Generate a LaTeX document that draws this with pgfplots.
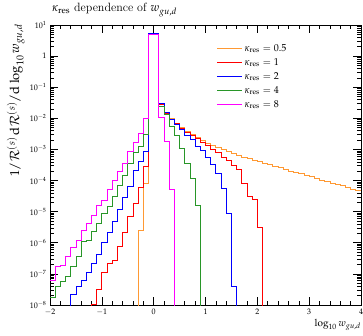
\documentclass[border=0pt]{standalone}
\usepackage{mathpazo}
\usepackage{pgfplots}
\pgfplotsset{compat=1.18}
\definecolor{korange}{RGB}{255,153,51}
\definecolor{kred}{RGB}{255,0,0}
\definecolor{kblue}{RGB}{0,0,255}
\definecolor{kgreen}{RGB}{40,150,40}
\definecolor{kmagenta}{RGB}{255,0,255}

\begin{document}
\begin{tikzpicture}
\begin{axis}[
  name=ax,
  scale only axis, width=311pt, height=280pt,
  xmin=-2, xmax=4, ymin=1e-8, ymax=10,
  ymode=log,
  clip=true,
  xtick={-2,-1,0,1,2,3,4},
  minor x tick num=4,
  ytick={1e-8,1e-7,1e-6,1e-5,1e-4,1e-3,1e-2,1e-1,1,10},
  yticklabels={$10^{-8}$,$10^{-7}$,$10^{-6}$,$10^{-5}$,$10^{-4}$,$10^{-3}$,$10^{-2}$,$10^{-1}$,$1$,$10^{1}$},
  minor ytick={2e-8,3e-8,4e-8,5e-8,6e-8,7e-8,8e-8,9e-8,
               2e-7,3e-7,4e-7,5e-7,6e-7,7e-7,8e-7,9e-7,
               2e-6,3e-6,4e-6,5e-6,6e-6,7e-6,8e-6,9e-6,
               2e-5,3e-5,4e-5,5e-5,6e-5,7e-5,8e-5,9e-5,
               2e-4,3e-4,4e-4,5e-4,6e-4,7e-4,8e-4,9e-4,
               2e-3,3e-3,4e-3,5e-3,6e-3,7e-3,8e-3,9e-3,
               2e-2,3e-2,4e-2,5e-2,6e-2,7e-2,8e-2,9e-2,
               0.2,0.3,0.4,0.5,0.6,0.7,0.8,0.9,
               2,3,4,5,6,7,8,9},
  tick align=inside, xtick pos=both, ytick pos=both,
  major tick length=8pt, minor tick length=4pt,
  every tick/.style={black, line width=0.6pt},
  axis line style={line width=0.6pt},
  tick label style={font=\footnotesize},
  title={$\kappa_{\mathrm{res}}$ dependence of $w_{gu,d}$},
  title style={at={(axis description cs:0,1)}, anchor=south west, inner sep=2pt, yshift=0pt,
               font=\fontsize{12}{14}\selectfont},
  xlabel={$\log_{10} w_{gu,d}$},
  xlabel style={at={(axis description cs:1,0)}, anchor=north east, inner sep=0pt, yshift=-14pt},
  ylabel={$1/\mathcal{R}^{(s)}\,\mathrm{d}\mathcal{R}^{(s)}/\mathrm{d}\log_{10} w_{gu,d}$},
  ylabel style={at={(axis description cs:-0.07,1.015)}, anchor=south east,
                font=\fontsize{13}{15}\selectfont},
  legend style={draw=none, fill=none, at={(axis description cs:0.525,0.945)}, anchor=north west,
                row sep=1.5pt, font=\normalsize},
  legend cell align=left,
  legend image code/.code={\draw[#1, line width=1.2pt] (0pt,0pt) -- (25pt,0pt);},
  every axis plot/.append style={const plot, line width=0.8pt, mark=none},
]
\coordinate (bl) at (rel axis cs:0,0);
\coordinate (tr) at (rel axis cs:1,1);

% kappa_res = 0.5
\addplot[korange] coordinates {
(-0.4,1e-12) (-0.3,2.57e-6) (-0.2,8.13e-5) (-0.1,5.15) (0.0,5.15)
(0.1,2.82e-2) (0.2,1.51e-2) (0.3,1.0e-2) (0.4,7.08e-3) (0.5,5.01e-3)
(0.6,3.80e-3) (0.7,3.02e-3) (0.8,2.40e-3) (0.9,1.91e-3) (1.0,1.58e-3)
(1.1,1.35e-3) (1.2,1.15e-3) (1.3,1.0e-3) (1.4,8.71e-4) (1.5,7.59e-4)
(1.6,6.61e-4) (1.7,5.75e-4) (1.8,5.13e-4) (1.9,4.57e-4) (2.0,4.07e-4)
(2.1,3.63e-4) (2.2,3.24e-4) (2.3,2.88e-4) (2.4,2.57e-4) (2.5,2.29e-4)
(2.6,2.04e-4) (2.7,1.86e-4) (2.8,1.66e-4) (2.9,1.48e-4) (3.0,1.32e-4)
(3.1,1.17e-4) (3.2,1.05e-4) (3.3,9.33e-5) (3.4,8.32e-5) (3.5,7.59e-5)
(3.6,6.76e-5) (3.7,6.03e-5) (3.8,5.37e-5) (3.9,4.79e-5) (4.0,4.79e-5)
};
\addlegendentry{$\kappa_{\mathrm{res}} = 0.5$}

% kappa_res = 1
\addplot[kred] coordinates {
(-1.3,1e-12) (-1.2,1.07e-8) (-1.1,3.16e-8) (-1.0,1.10e-7) (-0.9,2.19e-7)
(-0.8,2.75e-7) (-0.7,7.59e-7) (-0.6,2.14e-6) (-0.5,6.92e-6) (-0.4,1.86e-5)
(-0.3,6.03e-5) (-0.2,2.82e-4) (-0.1,5.15) (0.0,5.15)
(0.1,2.82e-2) (0.2,1.45e-2) (0.3,9.33e-3) (0.4,6.76e-3) (0.5,4.79e-3)
(0.6,3.55e-3) (0.7,2.82e-3) (0.8,2.19e-3) (0.9,1.70e-3) (1.0,1.32e-3)
(1.1,1.0e-3) (1.2,7.94e-4) (1.3,5.62e-4) (1.4,4.47e-4) (1.5,3.02e-4)
(1.6,2.24e-4) (1.7,8.13e-5) (1.8,3.16e-5) (1.9,2.51e-5) (2.0,3.24e-6)
(2.1,1e-12)
};
\addlegendentry{$\kappa_{\mathrm{res}} = 1$}

% kappa_res = 2
\addplot[kblue] coordinates {
(-1.7,1e-12) (-1.6,2.19e-8) (-1.5,3.89e-8) (-1.4,6.31e-8) (-1.3,1.10e-7)
(-1.2,2.19e-7) (-1.1,4.27e-7) (-1.0,1.0e-6) (-0.9,2.09e-6) (-0.8,5.01e-6)
(-0.7,1.20e-5) (-0.6,2.82e-5) (-0.5,6.46e-5) (-0.4,2.09e-4) (-0.3,4.07e-4)
(-0.2,8.51e-4) (-0.1,5.2) (0.0,5.2)
(0.1,3.02e-2) (0.2,1.51e-2) (0.3,8.91e-3) (0.4,6.61e-3) (0.5,4.47e-3)
(0.6,2.88e-3) (0.7,2.09e-3) (0.8,1.29e-3) (0.9,9.55e-4) (1.0,5.62e-4)
(1.1,3.39e-4) (1.2,1.70e-4) (1.3,5.62e-5) (1.4,8.91e-6) (1.5,3.89e-8)
(1.6,1e-12)
};
\addlegendentry{$\kappa_{\mathrm{res}} = 2$}

% kappa_res = 4
\addplot[kgreen] coordinates {
(-2.0,1.82e-8) (-1.9,3.89e-8) (-1.8,5.62e-8) (-1.7,8.51e-8) (-1.6,1.70e-7)
(-1.5,3.55e-7) (-1.4,1.12e-6) (-1.3,1.17e-6) (-1.2,2.24e-6) (-1.1,4.17e-6)
(-1.0,8.51e-6) (-0.9,1.51e-5) (-0.8,3.16e-5) (-0.7,7.24e-5) (-0.6,1.51e-4)
(-0.5,3.55e-4) (-0.4,7.94e-4) (-0.3,1.26e-3) (-0.2,3.02e-3) (-0.1,5.13) (0.0,5.13)
(0.1,2.51e-2) (0.2,1.29e-2) (0.3,5.62e-3) (0.4,2.88e-3) (0.5,1.07e-3)
(0.6,3.55e-4) (0.7,1.17e-4) (0.8,1.62e-5) (0.9,1e-12)
};
\addlegendentry{$\kappa_{\mathrm{res}} = 4$}

% kappa_res = 8
\addplot[kmagenta] coordinates {
(-2.0,6.31e-8) (-1.9,1.70e-7) (-1.8,1.86e-7) (-1.7,3.55e-7) (-1.6,7.08e-7)
(-1.5,1.23e-6) (-1.4,2.45e-6) (-1.3,4.17e-6) (-1.2,7.76e-6) (-1.1,1.55e-5)
(-1.0,2.34e-5) (-0.9,5.25e-5) (-0.8,1.05e-4) (-0.7,1.91e-4) (-0.6,3.55e-4)
(-0.5,8.51e-4) (-0.4,1.66e-3) (-0.3,3.31e-3) (-0.2,1.0e-2) (-0.1,5.13) (0.0,5.13)
(0.1,1.07e-2) (0.2,1.78e-3) (0.3,5.25e-5) (0.4,1e-12)
};
\addlegendentry{$\kappa_{\mathrm{res}} = 8$}
\end{axis}
\pgfresetboundingbox
\path[use as bounding box] ([xshift=-50pt,yshift=-30pt]bl) rectangle ([xshift=2pt,yshift=25pt]tr);
\end{tikzpicture}
\end{document}
